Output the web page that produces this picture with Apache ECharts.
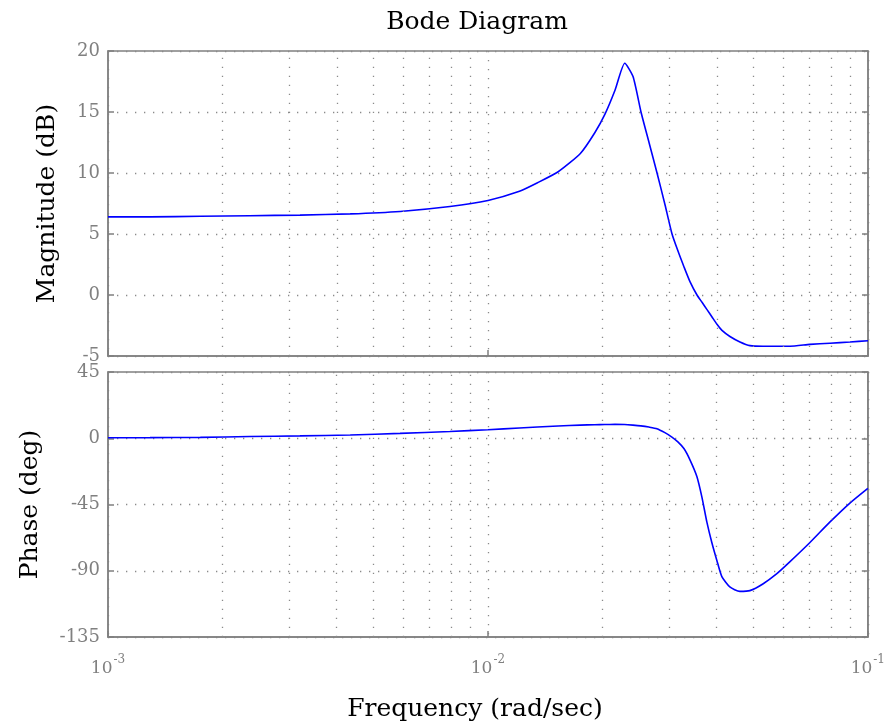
<!DOCTYPE html>
<html>
<head>
<meta charset="utf-8">
<script src="https://cdn.jsdelivr.net/npm/echarts@6/dist/echarts.min.js"></script>
<style>
  html, body { margin: 0; padding: 0; background: #fff; }
  #chart { width: 888px; height: 727px; }
</style>
</head>
<body>
<div id="chart"></div>
<script>
// frequency points (rad/sec)
var freq = [0.001, 0.00129, 0.00175, 0.00236, 0.0032, 0.00434, 0.00587, 0.00794, 0.01, 0.0121,
  0.0135, 0.0153, 0.0175, 0.0191, 0.0203, 0.0216, 0.0229, 0.02408, 0.02527, 0.02653,
  0.02785, 0.02923, 0.0305, 0.03162, 0.0328, 0.034, 0.03548, 0.03658, 0.0377, 0.03886,
  0.04005, 0.04128, 0.04332, 0.04603, 0.04892, 0.05292, 0.05761, 0.0623, 0.0703, 0.0794,
  0.0897, 0.1]
var magDb = [6.4, 6.4, 6.45, 6.5, 6.55, 6.65, 6.85, 7.25, 7.75, 8.5,
  9.2, 10.1, 11.6, 13.3, 14.8, 16.8, 19.0, 17.9, 15.0, 12.5,
  10.0, 7.4, 5.0, 3.6, 2.3, 1.1, 0.0, -0.6, -1.2, -1.8,
  -2.4, -2.9, -3.4, -3.85, -4.15, -4.2, -4.2, -4.2, -4.05, -3.95,
  -3.85, -3.75]
var phaseDeg = [0.3, 0.4, 0.6, 1.2, 1.6, 2.2, 3.3, 4.6, 5.8, 7.0,
  7.6, 8.3, 8.9, 9.2, 9.3, 9.4, 9.3, 8.9, 8.4, 7.6,
  6.5, 3.8, 0.8, -2.5, -7, -14.5, -26, -40, -57, -71,
  -83, -94, -101, -104, -103.5, -99, -92, -84, -71, -57,
  -44, -34]
// minor log grid lines
var minorGrid = [0.002, 0.003, 0.004, 0.005, 0.006, 0.007, 0.008, 0.009,
  0.02, 0.03, 0.04, 0.05, 0.06, 0.07, 0.08, 0.09]

var gray = '#808080'
var dotted = { color: '#8a8a8a', width: 1.3, type: [1.3, 7.7] }
var font = 'DejaVu Serif'

function pairs(ys) {
  return freq.map(function (f, i) { return [f, ys[i]] })
}

function gridLines() {
  return {
    silent: true,
    symbol: 'none',
    precision: 6,
    label: { show: false },
    lineStyle: dotted,
    data: minorGrid.map(function (f) { return { xAxis: f } })
  }
}

function xAxisFor(idx, withLabels) {
  return {
    type: 'log', logBase: 10, gridIndex: idx, min: 0.001, max: 0.1,
    axisLine: { show: true, onZero: false, lineStyle: { color: gray, width: 1.5 } },
    axisTick: { show: true, inside: true, length: 6, lineStyle: { color: gray, width: 1.5 } },
    splitLine: { show: true, lineStyle: dotted },
    axisLabel: {
      show: withLabels, margin: 17, showMinLabel: true, showMaxLabel: true,
      formatter: function (v) {
        return '{b|10}{s|' + Math.round(Math.log10(v)) + '}'
      },
      rich: {
        b: { fontFamily: font, fontSize: 17, color: gray },
        s: { fontFamily: font, fontSize: 12, color: gray, padding: [0, 0, 18, 1] }
      }
    },
    name: withLabels ? 'Frequency (rad/sec)' : '',
    nameLocation: 'middle', nameGap: 60,
    nameTextStyle: { fontFamily: font, fontSize: 25, color: '#000', padding: [0, 26, 0, 0] }
  }
}

function yAxisFor(idx, min, max, step, name, gap, right) {
  return {
    type: 'value', gridIndex: idx, min: min, max: max, interval: step,
    position: right ? 'right' : 'left',
    axisLine: { show: true, lineStyle: { color: gray, width: 1.5 } },
    axisTick: { show: true, inside: true, length: 6, lineStyle: { color: gray, width: 1.5 } },
    splitLine: { show: !right, lineStyle: dotted },
    axisLabel: { show: !right, fontFamily: font, fontSize: 18, color: gray, margin: 8 },
    name: right ? '' : name,
    nameLocation: 'middle', nameGap: gap, nameRotate: 90,
    nameTextStyle: { fontFamily: font, fontSize: 25, color: '#000' }
  }
}

var chart = echarts.init(document.getElementById('chart'))
chart.setOption({
  animation: false,
  backgroundColor: '#fff',
  title: {
    text: 'Bode Diagram', left: 472, top: 5, textAlign: 'center',
    textStyle: { fontFamily: font, fontSize: 25, fontWeight: 'normal', color: '#000' }
  },
  grid: [
    { left: 108, right: 20, top: 51, height: 305, show: true, borderColor: gray, borderWidth: 1.5 },
    { left: 108, right: 20, top: 372, height: 265, show: true, borderColor: gray, borderWidth: 1.5 }
  ],
  xAxis: [
    xAxisFor(0, false),
    xAxisFor(1, true)
  ],
  yAxis: [
    yAxisFor(0, -5, 20, 5, 'Magnitude (dB)', 48, false),
    yAxisFor(1, -135, 45, 45, 'Phase (deg)', 65, false),
    yAxisFor(0, -5, 20, 5, '', 0, true),
    yAxisFor(1, -135, 45, 45, '', 0, true)
  ],
  series: [
    {
      type: 'line', xAxisIndex: 0, yAxisIndex: 0, data: pairs(magDb),
      showSymbol: false, smooth: 0.2, lineStyle: { color: '#0000ff', width: 1.6 },
      markLine: gridLines()
    },
    {
      type: 'line', xAxisIndex: 1, yAxisIndex: 1, data: pairs(phaseDeg),
      showSymbol: false, smooth: 0.2, lineStyle: { color: '#0000ff', width: 1.6 },
      markLine: gridLines()
    }
  ]
})
</script>
</body>
</html>
